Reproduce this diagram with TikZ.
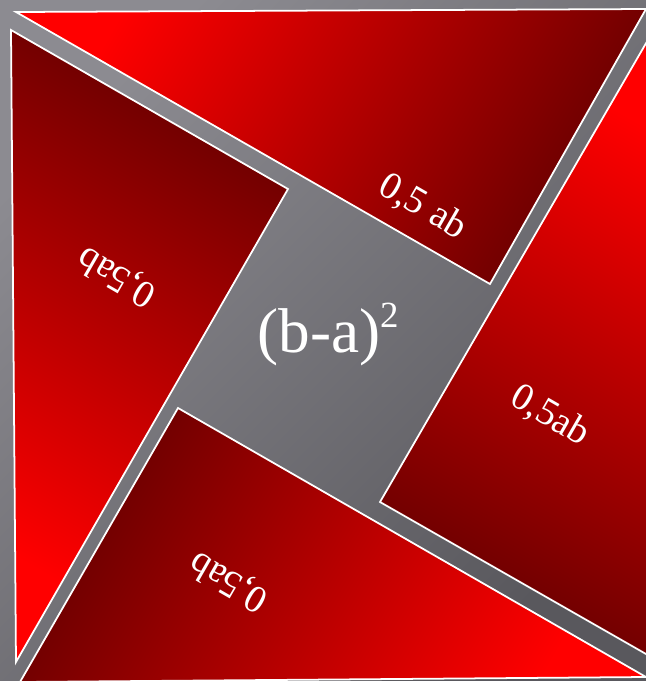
\documentclass[tikz,border=0pt]{standalone}
\usepackage{fontspec}
\setmainfont{Liberation Serif}
\definecolor{redhi}{HTML}{FF0000}
\definecolor{redlo}{HTML}{660000}
\definecolor{grayhi}{HTML}{8C8B91}
\definecolor{graylo}{HTML}{59585D}

\tikzset{
  piece/.style={draw=white, line width=1pt, line join=miter},
  piecelabel/.style={text=white, font=\fontsize{22}{22}\selectfont, inner sep=0pt},
}

\begin{document}
\begin{tikzpicture}[x=0.02cm, y=-0.02cm]

% Frame (coordinates in pixels of the 646 x 681 picture, y downwards)
\useasboundingbox (0,0) rectangle (646,681);
\clip (0,0) rectangle (646,681);

% Background
\shade[top color=grayhi, bottom color=graylo, shading angle=45]
  (0,0) rectangle (646,681);

% Four triangles, bright at the tip of the long leg
% top
\shadedraw[piece, top color=redhi, bottom color=redlo, shading angle=60]
  (16,12) -- (646,9) -- (490,284) -- cycle;
% left
\shadedraw[piece, top color=redhi, bottom color=redlo, shading angle=150]
  (11,30) -- (288,189) -- (16,662) -- cycle;
% bottom
\shadedraw[piece, top color=redhi, bottom color=redlo, shading angle=240]
  (178,408) -- (20,682) -- (646,677) -- cycle;
% right
\shadedraw[piece, top color=redhi, bottom color=redlo, shading angle=-30]
  (380,502) -- (656,26) -- (660,662) -- cycle;

% Labels
\node[piecelabel, rotate=-30] (lbltop) at (423,207) {0,5 ab};
\node[piecelabel, rotate=-30] (lblright) at (550,416) {0,5ab};
\node[piecelabel, rotate=150] (lblleft) at (117,276) {0,5ab};
\node[piecelabel, rotate=150] (lblbottom) at (229,581) {0,5ab};

% Middle square
\node[text=white, font=\fontsize{36}{36}\selectfont, anchor=base, inner sep=0pt]
  (square) at (328,352) {(b-a)\raisebox{14pt}{\fontsize{21}{21}\selectfont 2}};

\end{tikzpicture}
\end{document}
